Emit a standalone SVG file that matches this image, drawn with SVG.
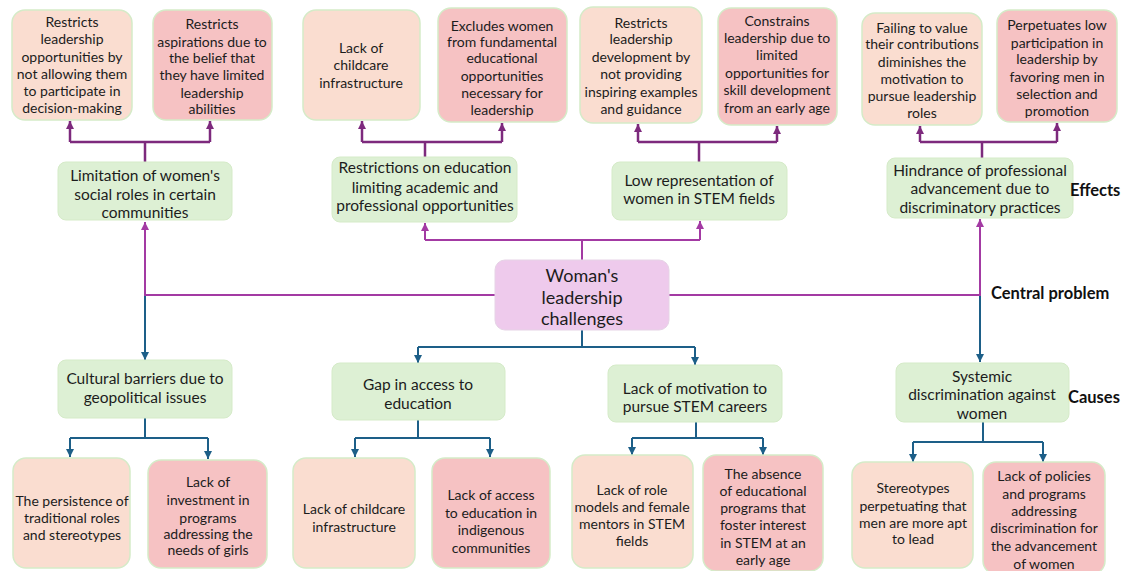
<svg xmlns="http://www.w3.org/2000/svg" width="1131" height="571" viewBox="0 0 1131 571">
<defs>
<marker id="ap" markerUnits="userSpaceOnUse" markerWidth="9" markerHeight="9" refX="8" refY="4" orient="auto"><path d="M0,0 L8,4 L0,8 z" fill="#7D2A7D"/></marker>
<marker id="am" markerUnits="userSpaceOnUse" markerWidth="9" markerHeight="9" refX="8" refY="4" orient="auto"><path d="M0,0 L8,4 L0,8 z" fill="#A33AA3"/></marker>
<marker id="ab" markerUnits="userSpaceOnUse" markerWidth="9" markerHeight="9" refX="8" refY="4" orient="auto"><path d="M0,0 L8,4 L0,8 z" fill="#1D5F88"/></marker>
</defs>
<style>
text{font-family:Lato,"Liberation Sans",sans-serif;fill:#1c1c1c;text-anchor:middle;dominant-baseline:central}
.s{font-size:14px}
.m{font-size:15.5px}
.c{font-size:18px}
.lab{font-weight:bold;font-size:16.5px;text-anchor:start;fill:#111}
.pe{fill:#FADDD0;stroke:#D5EBC8;stroke-width:1.5}
.pk{fill:#F6C2C3;stroke:#D5EBC8;stroke-width:1.5}
.gr{fill:#DDF0D4;stroke:#D5EBC8;stroke-width:1}
.ce{fill:#EECAEC;stroke:#E6D3E6;stroke-width:1}
.lp{fill:none;stroke:#7D2A7D;stroke-width:2.5}
.lm{fill:none;stroke:#A33AA3;stroke-width:2}
.lb{fill:none;stroke:#1D5F88;stroke-width:2}
</style>
<rect width="1131" height="571" fill="#fff"/>
<g id="connectors">
<path class="lp" d="M145,162 V142 M70,142 H210"/>
<path class="lp" d="M70,142 V121" marker-end="url(#ap)"/>
<path class="lp" d="M210,142 V121" marker-end="url(#ap)"/>
<path class="lp" d="M425,157 V142 M362,142 H502"/>
<path class="lp" d="M362,142 V121" marker-end="url(#ap)"/>
<path class="lp" d="M502,142 V123" marker-end="url(#ap)"/>
<path class="lp" d="M699,162 V142 M638,142 H777"/>
<path class="lp" d="M638,142 V124" marker-end="url(#ap)"/>
<path class="lp" d="M777,142 V126" marker-end="url(#ap)"/>
<path class="lp" d="M982,158 V142 M920,142 H1057"/>
<path class="lp" d="M920,142 V126" marker-end="url(#ap)"/>
<path class="lp" d="M1057,142 V123" marker-end="url(#ap)"/>
<path class="lm" d="M495,295 H145 V222" marker-end="url(#am)"/>
<path class="lm" d="M669,295 H980 V219" marker-end="url(#am)"/>
<path class="lm" d="M582,260 V240 M425,240 H700"/>
<path class="lm" d="M425,240 V223" marker-end="url(#am)"/>
<path class="lm" d="M700,240 V221" marker-end="url(#am)"/>
<path class="lb" d="M145,296 V360" marker-end="url(#ab)"/>
<path class="lb" d="M980,296 V362" marker-end="url(#ab)"/>
<path class="lb" d="M582,330 V347 M418,347 H695"/>
<path class="lb" d="M418,347 V363" marker-end="url(#ab)"/>
<path class="lb" d="M695,347 V365" marker-end="url(#ab)"/>
<path class="lb" d="M145,418 V438 M70,438 H208"/>
<path class="lb" d="M70,438 V457" marker-end="url(#ab)"/>
<path class="lb" d="M208,438 V459" marker-end="url(#ab)"/>
<path class="lb" d="M418,420 V438 M355,438 H490"/>
<path class="lb" d="M355,438 V457" marker-end="url(#ab)"/>
<path class="lb" d="M490,438 V457" marker-end="url(#ab)"/>
<path class="lb" d="M696,422 V438 M632,438 H763"/>
<path class="lb" d="M632,438 V455" marker-end="url(#ab)"/>
<path class="lb" d="M763,438 V455" marker-end="url(#ab)"/>
<path class="lb" d="M983,422 V442 M913,442 H1043"/>
<path class="lb" d="M913,442 V462" marker-end="url(#ab)"/>
<path class="lb" d="M1043,442 V462" marker-end="url(#ab)"/>
</g>
<g id="e1"><rect class="pe" x="12" y="10" width="120" height="110" rx="13"/>
<text class="s"><tspan x="72" y="21">Restricts</tspan><tspan x="72" y="38">leadership</tspan><tspan x="72" y="56">opportunities by</tspan><tspan x="72" y="73">not allowing them</tspan><tspan x="72" y="90">to participate in</tspan><tspan x="72" y="107">decision-making</tspan></text></g>
<g id="e2"><rect class="pk" x="153" y="10" width="119" height="110" rx="13"/>
<text class="s"><tspan x="212" y="23">Restricts</tspan><tspan x="212" y="41">aspirations due to</tspan><tspan x="212" y="57">the belief that</tspan><tspan x="212" y="74">they have limited</tspan><tspan x="212" y="92">leadership</tspan><tspan x="212" y="108">abilities</tspan></text></g>
<g id="e3"><rect class="pe" x="303" y="10" width="117" height="110" rx="13"/>
<text class="s"><tspan x="361" y="47">Lack of</tspan><tspan x="361" y="64">childcare</tspan><tspan x="361" y="82">infrastructure</tspan></text></g>
<g id="e4"><rect class="pk" x="438" y="8" width="129" height="114" rx="13"/>
<text class="s"><tspan x="502" y="25">Excludes women</tspan><tspan x="502" y="41">from fundamental</tspan><tspan x="502" y="57">educational</tspan><tspan x="502" y="75">opportunities</tspan><tspan x="502" y="92">necessary for</tspan><tspan x="502" y="109">leadership</tspan></text></g>
<g id="e5"><rect class="pe" x="580" y="7" width="122" height="116" rx="13"/>
<text class="s"><tspan x="641" y="22">Restricts</tspan><tspan x="641" y="38">leadership</tspan><tspan x="641" y="56">development by</tspan><tspan x="641" y="73">not providing</tspan><tspan x="641" y="91">inspiring examples</tspan><tspan x="641" y="108">and guidance</tspan></text></g>
<g id="e6"><rect class="pk" x="718" y="8" width="119" height="117" rx="13"/>
<text class="s"><tspan x="777" y="20">Constrains</tspan><tspan x="777" y="37">leadership due to</tspan><tspan x="777" y="54">limited</tspan><tspan x="777" y="72">opportunities for</tspan><tspan x="777" y="89">skill development</tspan><tspan x="777" y="107">from an early age</tspan></text></g>
<g id="e7"><rect class="pe" x="862" y="13" width="120" height="112" rx="13"/>
<text class="s"><tspan x="922" y="27">Failing to value</tspan><tspan x="922" y="43">their contributions</tspan><tspan x="922" y="61">diminishes the</tspan><tspan x="922" y="78">motivation to</tspan><tspan x="922" y="95">pursue leadership</tspan><tspan x="922" y="112">roles</tspan></text></g>
<g id="e8"><rect class="pk" x="997" y="10" width="120" height="112" rx="13"/>
<text class="s"><tspan x="1057" y="24">Perpetuates low</tspan><tspan x="1057" y="42">participation in</tspan><tspan x="1057" y="58">leadership by</tspan><tspan x="1057" y="76">favoring men in</tspan><tspan x="1057" y="93">selection and</tspan><tspan x="1057" y="110">promotion</tspan></text></g>
<g id="m1"><rect class="gr" x="58" y="162" width="174" height="58" rx="8"/>
<text class="m"><tspan x="145" y="175">Limitation of women's</tspan><tspan x="145" y="194">social roles in certain</tspan><tspan x="145" y="212">communities</tspan></text></g>
<g id="m2"><rect class="gr" x="332" y="157" width="185" height="65" rx="8"/>
<text class="m"><tspan x="425" y="167">Restrictions on education</tspan><tspan x="425" y="187">limiting academic and</tspan><tspan x="425" y="205">professional opportunities</tspan></text></g>
<g id="m3"><rect class="gr" x="612" y="162" width="175" height="58" rx="8"/>
<text class="m"><tspan x="699" y="180">Low representation of</tspan><tspan x="699" y="198">women in STEM fields</tspan></text></g>
<g id="m4"><rect class="gr" x="887" y="158" width="186" height="60" rx="8"/>
<text class="m"><tspan x="980" y="170">Hindrance of professional</tspan><tspan x="980" y="188">advancement due to</tspan><tspan x="980" y="207">discriminatory practices</tspan></text></g>
<g id="center"><rect class="ce" x="495" y="260" width="174" height="70" rx="10"/>
<text class="c"><tspan x="582" y="275">Woman's</tspan><tspan x="582" y="297">leadership</tspan><tspan x="582" y="318">challenges</tspan></text></g>
<g id="c1"><rect class="gr" x="58" y="360" width="174" height="58" rx="8"/>
<text class="m"><tspan x="145" y="378">Cultural barriers due to</tspan><tspan x="145" y="397">geopolitical issues</tspan></text></g>
<g id="c2"><rect class="gr" x="332" y="363" width="173" height="57" rx="8"/>
<text class="m"><tspan x="418" y="384">Gap in access to</tspan><tspan x="418" y="403">education</tspan></text></g>
<g id="c3"><rect class="gr" x="608" y="365" width="174" height="57" rx="8"/>
<text class="m"><tspan x="695" y="388">Lack of motivation to</tspan><tspan x="695" y="406">pursue STEM careers</tspan></text></g>
<g id="c4"><rect class="gr" x="896" y="363" width="173" height="59" rx="8"/>
<text class="m"><tspan x="982" y="376">Systemic</tspan><tspan x="982" y="394">discrimination against</tspan><tspan x="982" y="413">women</tspan></text></g>
<g id="b1"><rect class="pe" x="13" y="458" width="117" height="110" rx="13"/>
<text class="s"><tspan x="72" y="500">The persistence of</tspan><tspan x="72" y="517">traditional roles</tspan><tspan x="72" y="534">and stereotypes</tspan></text></g>
<g id="b2"><rect class="pk" x="148" y="460" width="119" height="108" rx="13"/>
<text class="s"><tspan x="208" y="481">Lack of</tspan><tspan x="208" y="499">investment in</tspan><tspan x="208" y="517">programs</tspan><tspan x="208" y="533">addressing the</tspan><tspan x="208" y="549">needs of girls</tspan></text></g>
<g id="b3"><rect class="pe" x="293" y="458" width="122" height="110" rx="13"/>
<text class="s"><tspan x="354" y="508">Lack of childcare</tspan><tspan x="354" y="526">infrastructure</tspan></text></g>
<g id="b4"><rect class="pk" x="432" y="458" width="118" height="110" rx="13"/>
<text class="s"><tspan x="491" y="494">Lack of access</tspan><tspan x="491" y="512">to education in</tspan><tspan x="491" y="529">indigenous</tspan><tspan x="491" y="547">communities</tspan></text></g>
<g id="b5"><rect class="pe" x="572" y="455" width="121" height="113" rx="13"/>
<text class="s"><tspan x="632" y="489">Lack of role</tspan><tspan x="632" y="506">models and female</tspan><tspan x="632" y="523">mentors in STEM</tspan><tspan x="632" y="540">fields</tspan></text></g>
<g id="b6"><rect class="pk" x="703" y="455" width="120" height="116" rx="13"/>
<text class="s"><tspan x="763" y="473">The absence</tspan><tspan x="763" y="490">of educational</tspan><tspan x="763" y="507">programs that</tspan><tspan x="763" y="524">foster interest</tspan><tspan x="763" y="542">in STEM at an</tspan><tspan x="763" y="559">early age</tspan></text></g>
<g id="b7"><rect class="pe" x="852" y="462" width="121" height="106" rx="13"/>
<text class="s"><tspan x="913" y="487">Stereotypes</tspan><tspan x="913" y="505">perpetuating that</tspan><tspan x="913" y="522">men are more apt</tspan><tspan x="913" y="538">to lead</tspan></text></g>
<g id="b8"><rect class="pk" x="983" y="462" width="122" height="112" rx="13"/>
<text class="s"><tspan x="1044" y="475">Lack of policies</tspan><tspan x="1044" y="493">and programs</tspan><tspan x="1044" y="510">addressing</tspan><tspan x="1044" y="527">discrimination for</tspan><tspan x="1044" y="545">the advancement</tspan><tspan x="1044" y="563">of women</tspan></text></g>
<g id="labels">
<text class="lab" x="1070" y="190">Effects</text>
<text class="lab" x="991" y="293">Central problem</text>
<text class="lab" x="1068" y="397">Causes</text>
</g>
</svg>
